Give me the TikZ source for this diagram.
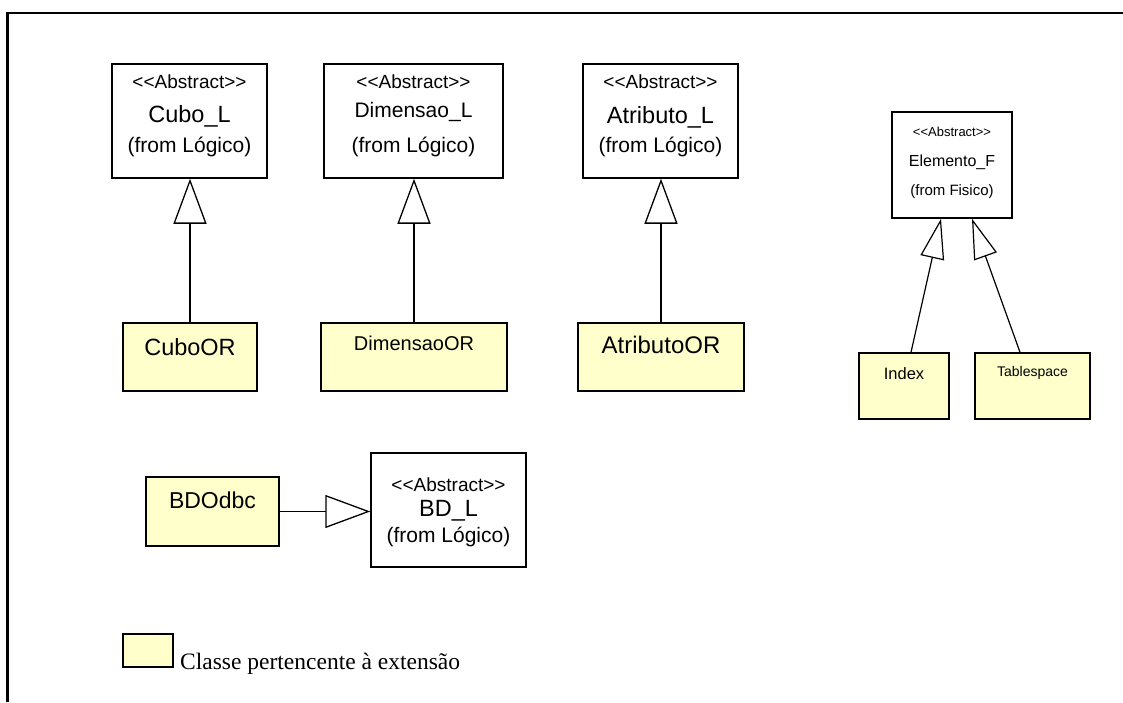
\documentclass[tikz,border=0pt]{standalone}
\usepackage{fontspec}
\setmainfont{Liberation Serif}
\newfontfamily\uml{Liberation Sans}
\usetikzlibrary{arrows.meta}
\definecolor{extyellow}{HTML}{FFFFCC}
\newcommand\fsz[1]{\fontsize{#1}{#1}\selectfont}
\newcommand\abst{<\kern0pt<Abstract>\kern0pt>}
\tikzset{
  cls/.style={draw=black, line width=1.5pt, fill=white, inner sep=0pt},
  ext/.style={cls, fill=extyellow},
  lbl/.style={inner sep=0pt, font=\uml},
  gen/.style={line width=1.3pt, -{Triangle[open, length=45pt, width=33pt, fill=white]}},
  gensm/.style={line width=1.2pt, -{Triangle[open, length=40pt, width=24pt, fill=white]}},
}
\begin{document}
\begin{tikzpicture}[x=1pt, y=-1pt]
\useasboundingbox (0,0) rectangle (1123,702);
\fill[white] (0,0) rectangle (1123,702);
% frame
\draw[line width=2.2pt] (7.5,702) -- (7.5,13) -- (1123,13);

% abstract classes
\node[cls, minimum width=155pt, minimum height=114pt] (cuboL) at (189.5,121) {};
\node[cls, minimum width=179pt, minimum height=114pt] (dimL) at (413.5,121) {};
\node[cls, minimum width=155pt, minimum height=114pt] (atrL) at (660.5,121) {};
\node[cls, minimum width=120pt, minimum height=106pt] (elemF) at (952,165) {};
\node[cls, minimum width=155pt, minimum height=114pt] (bdL) at (448.5,510) {};

% extension classes
\node[ext, minimum width=134pt, minimum height=68pt] (cuboOR) at (190,357) {};
\node[ext, minimum width=186pt, minimum height=68pt] (dimOR) at (414,357) {};
\node[ext, minimum width=166pt, minimum height=68pt] (atrOR) at (661,357) {};
\node[ext, minimum width=90pt, minimum height=66pt] (index) at (904,386) {};
\node[ext, minimum width=115pt, minimum height=66pt] (tables) at (1032.5,386) {};
\node[ext, minimum width=133pt, minimum height=69pt] (bdodbc) at (212.5,511.5) {};

% labels of abstract classes
\node[lbl, font=\uml\fsz{19}] (cuboLa) at (189.5,82) {\abst};
\node[lbl, font=\uml\fsz{23.5}] (cuboLb) at (189.5,116) {Cubo\_L};
\node[lbl, font=\uml\fsz{21}] (cuboLc) at (189.5,147) {(from Lógico)};

\node[lbl, font=\uml\fsz{19}] (dimLa) at (413.5,82) {\abst};
\node[lbl, font=\uml\fsz{21}] (dimLb) at (413.5,112) {Dimensao\_L};
\node[lbl, font=\uml\fsz{21}] (dimLc) at (413.5,147) {(from Lógico)};

\node[lbl, font=\uml\fsz{19}] (atrLa) at (660.5,82) {\abst};
\node[lbl, font=\uml\fsz{23.5}] (atrLb) at (660.5,117) {Atributo\_L};
\node[lbl, font=\uml\fsz{21}] (atrLc) at (660.5,147) {(from Lógico)};

\node[lbl, font=\uml\fsz{13}] (elemFa) at (952,132) {\abst};
\node[lbl, font=\uml\fsz{16}] (elemFb) at (952,162) {Elemento\_F};
\node[lbl, font=\uml\fsz{15}] (elemFc) at (952,192) {(from Fisico)};

\node[lbl, font=\uml\fsz{19}] (bdLa) at (448.5,485) {\abst};
\node[lbl, font=\uml\fsz{23.5}] (bdLb) at (448.5,511) {BD\_L};
\node[lbl, font=\uml\fsz{21}] (bdLc) at (448.5,537) {(from Lógico)};

% labels of extension classes
\node[lbl, font=\uml\fsz{23.5}] (cuboORt) at (190,347) {CuboOR};
\node[lbl, font=\uml\fsz{20}] (dimORt) at (414,343) {DimensaoOR};
\node[lbl, font=\uml\fsz{24}] (atrORt) at (661,345) {AtributoOR};
\node[lbl, font=\uml\fsz{16.5}] (indext) at (904,374) {Index};
\node[lbl, font=\uml\fsz{14}] (tablest) at (1032.5,373) {Tablespace};
\node[lbl, font=\uml\fsz{23}] (bdodbct) at (212.5,500) {BDOdbc};

% generalizations
\draw[gen] (cuboOR.north) -- (cuboOR.north |- cuboL.south);
\draw[gen] (dimOR.north) -- (dimOR.north |- dimL.south);
\draw[gen] (atrOR.north) -- (atrOR.north |- atrL.south);
\draw[gensm] ([xshift=7pt]index.north) -- ([xshift=-11pt]elemF.south);
\draw[gensm] ([xshift=-12.5pt]tables.north) -- ([xshift=20pt]elemF.south);
\draw[gen] (bdodbc.east) -- (bdodbc.east -| bdL.west);

% legend
\node[ext, line width=1.2pt, minimum width=50pt, minimum height=33pt] (legbox) at (148,650.5) {};
\node[anchor=base west, inner sep=0pt, font=\fsz{23.5}] (legtxt) at (180,669) {Classe pertencente à extensão};
\end{tikzpicture}
\end{document}
